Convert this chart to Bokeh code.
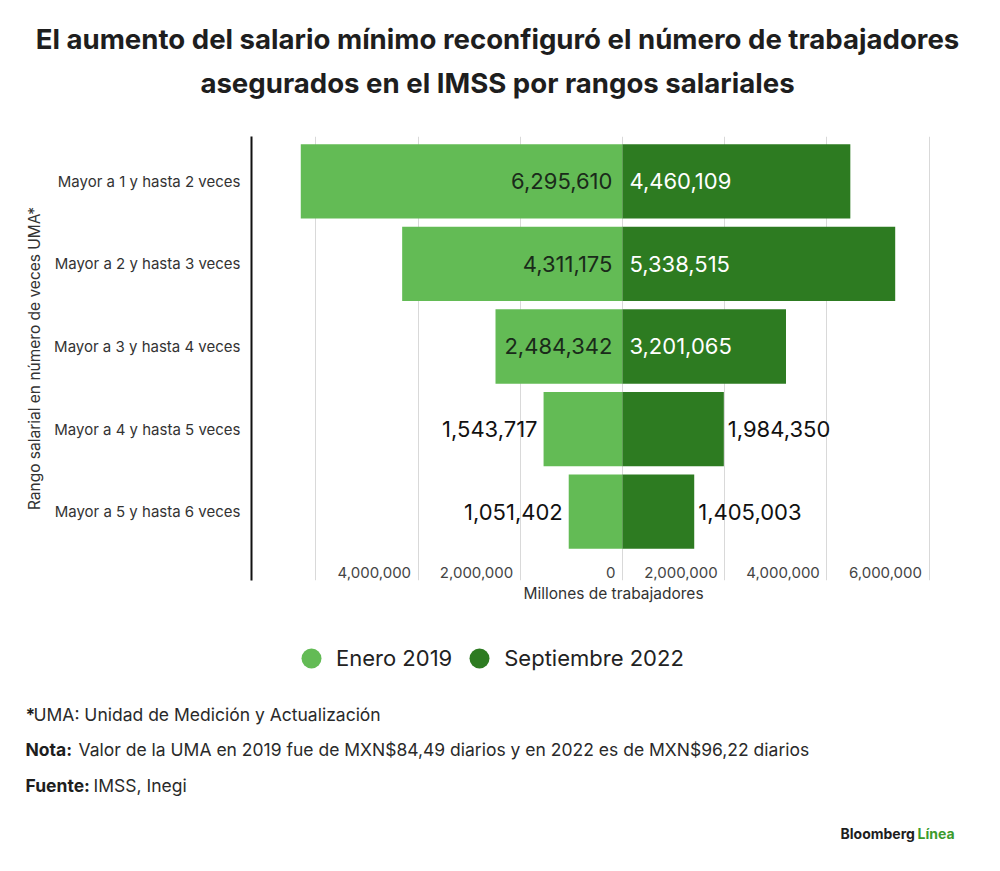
from bokeh.plotting import figure
from bokeh.models import (Range1d, FixedTicker, ColumnDataSource, Legend, LegendItem,
                          Label, Title)
from bokeh.layouts import column
from bokeh.core.properties import value
from bokeh.embed import file_html
from bokeh.resources import INLINE

# ---------------- data ----------------
categories = [
    "Mayor a 1 y hasta 2 veces",
    "Mayor a 2 y hasta 3 veces",
    "Mayor a 3 y hasta 4 veces",
    "Mayor a 4 y hasta 5 veces",
    "Mayor a 5 y hasta 6 veces",
]
enero_2019 = [6295610, 4311175, 2484342, 1543717, 1051402]
septiembre_2022 = [4460109, 5338515, 3201065, 1984350, 1405003]
series_names = ["Enero 2019", "Septiembre 2022"]

grid_ticks = [-6000000, -4000000, -2000000, 0, 2000000, 4000000, 6000000]
label_ticks = [-4000000, -2000000, 0, 2000000, 4000000, 6000000]
tick_labels = ["4,000,000", "2,000,000", "0", "2,000,000", "4,000,000", "6,000,000"]

title_lines = [
    "El aumento del salario mínimo reconfiguró el número de trabajadores",
    "asegurados en el IMSS por rangos salariales",
]
y_axis_title = "Rango salarial en número de veces UMA*"
x_axis_title = "Millones de trabajadores"
notes_bold = ["*", "Nota:", "Fuente:"]
notes_text = [
    "UMA: Unidad de Medición y Actualización",
    "Valor de la UMA en 2019 fue de MXN$84,49 diarios y en 2022 es de MXN$96,22 diarios",
    "IMSS, Inegi",
]
brand = ["Bloomberg", "Línea"]

# ---------------- styles ----------------
LIGHT = "#63bb55"
DARK = "#2d7b21"
TXT = "#1e1e1e"
FONT = "Inter"
W = 984
BL, BR = 251, 9


def no_align(f):
    if "frame_align" in f.properties():
        f.frame_align = False
    return f


def blank(h):
    f = figure(width=W, height=h, x_range=Range1d(0, W), y_range=Range1d(h, 0),
               x_axis_type=None, y_axis_type=None, output_backend="svg",
               toolbar_location=None, min_border=0)
    f.grid.visible = False
    f.outline_line_color = None
    return no_align(f)


# ---------------- header ----------------
HH = 128
head = blank(HH)
for line, yy in zip(title_lines, [38, 82]):
    head.add_layout(Label(x=497, y=yy, text=line, text_align="center",
                          text_baseline="middle", text_font=FONT,
                          text_font_style="bold", text_font_size="27.6px",
                          text_color=TXT))

# ---------------- main chart ----------------
n = len(categories)
idx = list(range(n))
p = figure(width=W, height=492,
           x_range=Range1d(-7.26e6, 6.91e6), y_range=Range1d(4.836, -0.545),
           x_axis_location=None,
           output_backend="svg", toolbar_location=None,
           min_border_left=BL, min_border_right=BR, min_border_top=8,
           min_border_bottom=40)
no_align(p)
p.outline_line_color = None
p.ygrid.visible = False
for g in p.xgrid:
    g.ticker = FixedTicker(ticks=grid_ticks)
    g.grid_line_color = "#d9d9d9"
    g.grid_line_width = 1

p.add_layout(Title(text=x_axis_title, align="center", text_font=FONT,
                   text_font_size="15.5px", text_font_style="normal",
                   text_color="#333333", standoff=3), "below")

ya = p.yaxis[0]
ya.ticker = FixedTicker(ticks=idx)
ya.major_label_overrides = {i: c for i, c in enumerate(categories)}
ya.major_label_text_font = FONT
ya.major_label_text_font_size = "15px"
ya.major_label_text_color = "#333333"
ya.major_label_standoff = 11
ya.major_tick_line_color = None
ya.major_tick_out = 0
ya.major_tick_in = 0
ya.minor_tick_line_color = None
ya.minor_tick_out = 0
ya.axis_line_color = "#111111"
ya.axis_line_width = 2
ya.axis_label = y_axis_title
ya.axis_label_text_font = FONT
ya.axis_label_text_font_size = "15.5px"
ya.axis_label_text_font_style = "normal"
ya.axis_label_text_color = "#333333"
ya.axis_label_standoff = 7

src = ColumnDataSource(dict(
    y=idx,
    neg=[-v for v in enero_2019],
    pos=septiembre_2022,
    zero=[0] * n,
))
p.hbar(y="y", left="neg", right="zero", height=0.9, fill_color=LIGHT,
       line_color=None, source=src)
p.hbar(y="y", left="zero", right="pos", height=0.9, fill_color=DARK,
       line_color=None, source=src)

THRESH = 2000000
left_lab = ColumnDataSource(dict(
    y=idx,
    x=[0 if v >= THRESH else -v for v in enero_2019],
    off=[-10 if v >= THRESH else -6 for v in enero_2019],
    col=["#1a2a1a" if v >= THRESH else "#111111" for v in enero_2019],
    t=[f"{v:,}" for v in enero_2019],
))
right_lab = ColumnDataSource(dict(
    y=idx,
    x=[0 if v >= THRESH else v for v in septiembre_2022],
    off=[7 if v >= THRESH else 4 for v in septiembre_2022],
    col=["#ffffff" if v >= THRESH else "#111111" for v in septiembre_2022],
    t=[f"{v:,}" for v in septiembre_2022],
))
p.text(x="x", y="y", text="t", x_offset="off", text_color="col", text_align="right",
       text_baseline="middle", text_font=value(FONT), text_font_size="22px",
       source=left_lab)
p.text(x="x", y="y", text="t", x_offset="off", text_color="col", text_align="left",
       text_baseline="middle", text_font=value(FONT), text_font_size="22px",
       source=right_lab)

# tick labels drawn next to each grid line
p.text(x=label_ticks, y=[4.74] * len(label_ticks), text=tick_labels, x_offset=-7,
       text_align="right", text_baseline="middle", text_font=value(FONT),
       text_font_size="15px", text_color="#444444")

# ---------------- footer ----------------
FH = 235
foot = blank(FH)
nan = float("nan")
r1 = foot.scatter(x=[nan], y=[nan], marker="circle", fill_color=LIGHT, line_color=None)
r2 = foot.scatter(x=[nan], y=[nan], marker="circle", fill_color=DARK, line_color=None)
legend = Legend(items=[LegendItem(label=series_names[0], renderers=[r1]),
                       LegendItem(label=series_names[1], renderers=[r2])],
                orientation="horizontal", location=(286, 172),
                glyph_width=50, glyph_height=50, label_standoff=-2, spacing=2,
                padding=0, margin=0, border_line_color=None,
                background_fill_alpha=0,
                label_text_font=FONT, label_text_font_size="22px",
                label_text_color="#222222")
foot.add_layout(legend)

note_y = [94, 129, 165]
note_x2 = [33, 78, 93]
for b, t, yy, x2 in zip(notes_bold, notes_text, note_y, note_x2):
    foot.add_layout(Label(x=25, y=yy, text=b, text_baseline="middle",
                          text_font=FONT, text_font_style="bold",
                          text_font_size="17.5px", text_color=TXT))
    foot.add_layout(Label(x=x2, y=yy, text=t, text_baseline="middle",
                          text_font=FONT, text_font_size="17.5px",
                          text_color="#2a2a2a"))

foot.add_layout(Label(x=840, y=213, text=brand[0], text_baseline="middle",
                      text_font=FONT, text_font_style="bold", text_font_size="14px",
                      text_color=TXT))
foot.add_layout(Label(x=917, y=213, text=brand[1], text_baseline="middle",
                      text_font=FONT, text_font_style="bold", text_font_size="14px",
                      text_color="#3c9b2c"))

layout = column(head, p, foot, spacing=0)
open("out.html", "w").write(file_html(layout, INLINE))
